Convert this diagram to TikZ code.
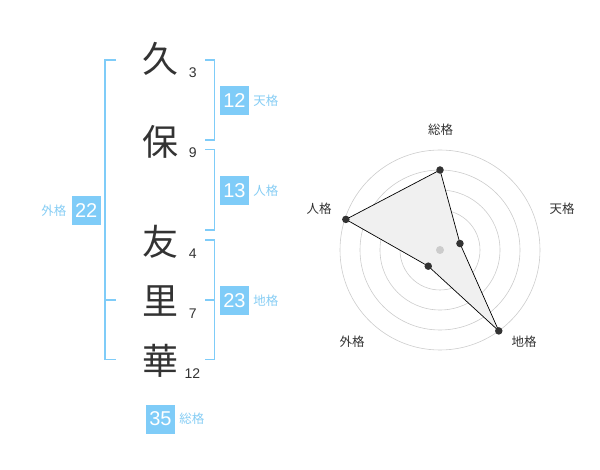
\documentclass[tikz,border=0pt]{standalone}
\usepackage{fontspec}
\setmainfont{Liberation Sans}
\newfontfamily\jp{Noto Sans CJK JP}
\usepackage{tikz}
\usetikzlibrary{positioning}
\definecolor{skyline}{HTML}{7FCCF8}
\definecolor{skytext}{HTML}{86CDF4}
\definecolor{inkgray}{HTML}{333333}
\definecolor{ringgray}{HTML}{CCCCCC}
\definecolor{polyfill}{HTML}{F0F0F0}
\tikzset{
    kanji/.style={text=inkgray, inner sep=0pt, font=\jp\fontsize{36}{36}\selectfont},
    strokes/.style={text=inkgray, inner sep=0pt, font=\fontsize{14}{14}\selectfont},
    numbox/.style={fill=skyline, text=white, minimum width=29pt, minimum height=29pt, inner sep=0pt, font=\fontsize{20}{20}\selectfont},
    boxlabel/.style={text=skytext, inner sep=0pt, font=\jp\fontsize{12.5}{12.5}\selectfont},
    bracket/.style={draw=skyline, line width=1.5pt},
    ring/.style={draw=ringgray, line width=0.6pt},
    axislabel/.style={text=inkgray, inner sep=0pt, font=\jp\fontsize{12.5}{12.5}\selectfont},
    dot/.style={circle, fill=inkgray, minimum size=7.5pt, inner sep=0pt},
}

\begin{document}
\begin{tikzpicture}[x=1pt, y=-1pt]
    \useasboundingbox (0,0) rectangle (600,470);

    % name column
    \node[kanji] (k1) at (160,59) {久};
    \node[kanji] (k2) at (160,141.5) {保};
    \node[kanji] (k3) at (160,242) {友};
    \node[kanji] (k4) at (160,301) {里};
    \node[kanji] (k5) at (160,360.5) {華};
    \node[strokes] (s1) at (192.7,72.7) {3};
    \node[strokes] (s2) at (192.7,153) {9};
    \node[strokes] (s3) at (192.7,313.3-60) {4};
    \node[strokes] (s4) at (192.7,313.3) {7};
    \node[strokes] (s5) at (192.5,373.3) {12};

    % brackets
    \draw[bracket] (116,60) -- (105,60) -- (105,359.3) -- (116,359.3);
    \draw[bracket] (105,300) -- (116,300);
    \draw[bracket] (205,60) -- (214.3,60) -- (214.3,140) -- (205,140);
    \draw[bracket] (205,149.3) -- (214.3,149.3) -- (214.3,230) -- (205,230);
    \draw[bracket] (205,240) -- (214.3,240) -- (214.3,359.3) -- (205,359.3);
    \draw[bracket] (205,300) -- (214.3,300);

    % scores
    \node[numbox] (b1) at (234.5,100.5) {12};
    \node[boxlabel, right=4pt of b1] (l1) {天格};
    \node[numbox] (b2) at (234.5,190.5) {13};
    \node[boxlabel, right=4pt of b2] (l2) {人格};
    \node[numbox] (b3) at (234.5,300.5) {23};
    \node[boxlabel, right=4pt of b3] (l3) {地格};
    \node[numbox] (b4) at (86.2,210.5) {22};
    \node[boxlabel, left=5pt of b4] (l4) {外格};
    \node[numbox] (b5) at (160.5,419) {35};
    \node[boxlabel, right=4pt of b5] (l5) {総格};

    % radar
    \coordinate (c) at (440,250);
    \foreach \r in {20,40,...,100}
        \draw[ring] (c) circle (\r pt);
    \coordinate (p1) at ([shift={(90:80pt)}]c);
    \coordinate (p2) at ([shift={(18:21pt)}]c);
    \coordinate (p3) at ([shift={(-54:100pt)}]c);
    \coordinate (p4) at ([shift={(-126:20pt)}]c);
    \coordinate (p5) at ([shift={(162:99pt)}]c);
    \fill[polyfill] (p1) -- (p2) -- (p3) -- (p4) -- (p5) -- cycle;
    \node[circle, fill=ringgray, minimum size=8pt, inner sep=0pt] (c0) at (c) {};
    \draw[black, line width=0.7pt] (p1) -- (p2) -- (p3) -- (p4) -- (p5) -- cycle;
    \foreach \p in {p1,p2,p3,p4,p5}
        \node[dot] at (\p) {};

    \node[axislabel] (a1) at (440.7,130) {総格};
    \node[axislabel] (a2) at (562,209) {天格};
    \node[axislabel] (a3) at (524,342) {地格};
    \node[axislabel] (a4) at (352,342) {外格};
    \node[axislabel] (a5) at (319,209) {人格};
\end{tikzpicture}
\end{document}
